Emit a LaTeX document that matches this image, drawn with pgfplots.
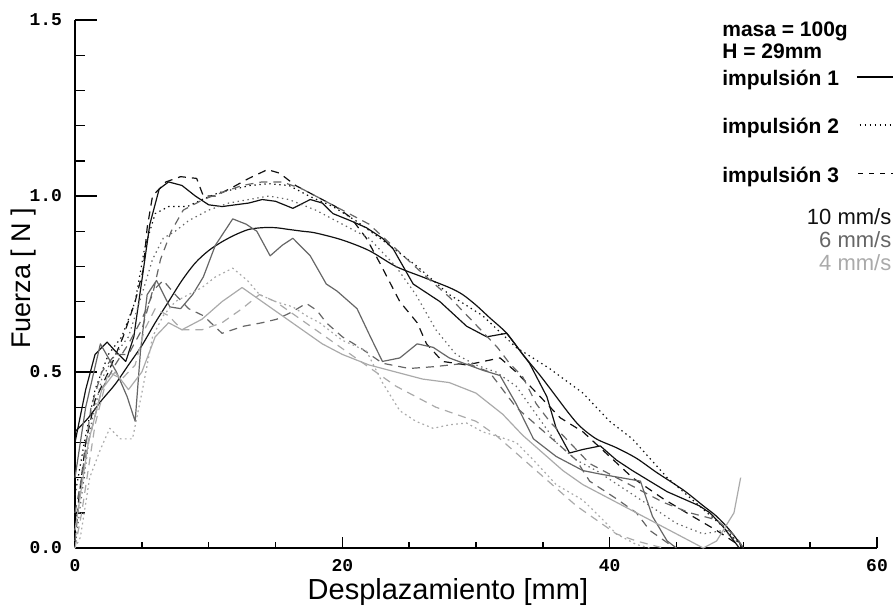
\documentclass[border=0pt]{standalone}
\usepackage{fontspec}
\setmainfont{Liberation Sans}
\newfontfamily\monofont{Liberation Mono}
\usepackage{pgfplots}
\pgfplotsset{compat=1.18}
\usetikzlibrary{calc}
\definecolor{cA}{HTML}{111111}
\definecolor{cB}{HTML}{666666}
\definecolor{cC}{HTML}{AAAAAA}
\begin{document}
\begin{tikzpicture}
\begin{axis}[name=ax,
  scale only axis, width=401pt, height=264pt,
  xmin=0, xmax=60, ymin=0, ymax=1.5,
  axis x line*=bottom, axis y line*=left,
  tick align=inside,
  xtick={0,20,40,60}, minor x tick num=3,
  ytick={0,0.5,1,1.5}, minor y tick num=4,
  major tick length=5.5pt, minor tick length=3pt,
  y tick style={/pgfplots/major tick length=11pt, /pgfplots/minor tick length=5pt},
  axis line style={line width=0.8pt},
  every tick/.style={line width=0.7pt, black},
  /pgf/number format/assume math mode=true,
  ticklabel style={font=\monofont\bfseries\fontsize{9}{10}\selectfont},
  yticklabel style={xshift=-3pt, /pgf/number format/fixed, /pgf/number format/fixed zerofill, /pgf/number format/precision=1},
  xticklabel style={yshift=-2pt},
  xlabel={Desplazamiento [mm]},
  xlabel style={font=\fontsize{14.5}{16}\selectfont, at={(rel axis cs:0.465,0)}, anchor=center, yshift=-22pt},
  ylabel={Fuerza [ N ]},
  ylabel style={font=\fontsize{13.5}{15}\selectfont, at={(rel axis cs:0,0.511)}, anchor=center, yshift=25.5pt},
  clip=false,
  every axis plot/.append style={line width=0.6pt, line join=round},
]
% 10 mm/s solid (wiggly)
\addplot[cA] coordinates {(0,0.30)(0.8,0.45)(1.5,0.55)(2.4,0.585)(3,0.56)(3.8,0.53)(4.4,0.6)(5,0.76)(5.6,0.92)(6.3,1.02)(7,1.04)(8,1.03)(9,1.0)(10,0.975)(11,0.97)(12,0.975)(13,0.98)(14,0.99)(15,0.985)(16.3,0.965)(17.6,0.99)(18.5,0.98)(19.3,0.95)(20.6,0.93)(21.8,0.91)(23,0.88)(23.8,0.85)(25.3,0.75)(27.3,0.70)(29.3,0.63)(30.8,0.60)(32.3,0.61)(34,0.525)(35.3,0.43)(36,0.34)(37,0.27)(38,0.28)(39.3,0.29)(40.5,0.25)(41.7,0.22)(43,0.19)(44.3,0.16)(45.5,0.14)(46.7,0.12)(47.5,0.1)(48.5,0.06)(49.7,0.0)};
% 10 mm/s solid (smooth)
\addplot[cA, smooth] coordinates {(0,0.33)(1,0.37)(2,0.42)(3,0.465)(4,0.52)(5,0.575)(6,0.64)(7,0.70)(8,0.76)(9,0.81)(10,0.845)(11,0.87)(12,0.89)(13,0.905)(14,0.91)(15,0.91)(16,0.905)(17,0.9)(18,0.895)(20,0.875)(22,0.845)(24,0.80)(26,0.77)(28,0.74)(29,0.72)(30,0.69)(31,0.655)(32.3,0.61)(33.5,0.55)(34.8,0.49)(36,0.43)(37,0.38)(37.8,0.345)(39,0.31)(40.5,0.285)(42,0.255)(43.5,0.215)(45.5,0.165)(47,0.12)(48,0.09)(49,0.05)(50,0.0)};
% 10 mm/s dotted
\addplot[cA, dash pattern=on 0.7pt off 1.8pt] coordinates {(0,0.15)(0.7,0.3)(1.5,0.45)(2.5,0.55)(3.5,0.6)(4.5,0.7)(5.2,0.85)(6,0.95)(7,0.97)(8.4,0.97)(9.5,0.99)(10.8,1.01)(12,1.02)(13.1,1.03)(14.5,1.035)(16,1.03)(17.5,1.0)(19.3,0.97)(21,0.93)(23,0.875)(25.6,0.80)(28,0.72)(30.5,0.66)(33,0.57)(35.5,0.51)(38,0.44)(40,0.36)(41.7,0.31)(44.3,0.2)(46.7,0.12)(48.5,0.06)(49.5,0.02)(50,0)};
% 10 mm/s dashed
\addplot[cA, dash pattern=on 4pt off 3pt] coordinates {(0,0.05)(0.8,0.3)(1.5,0.42)(2.5,0.5)(3.6,0.6)(4.5,0.7)(5.1,0.79)(5.4,0.91)(5.8,1.0)(6.8,1.04)(7.9,1.055)(9.1,1.05)(9.6,1.0)(10.5,1.0)(11.8,1.025)(13,1.05)(14.4,1.075)(15.3,1.065)(16.5,1.03)(18,1.0)(19.5,0.97)(20.6,0.94)(21.8,0.88)(22.8,0.81)(24.3,0.70)(25.6,0.64)(26.3,0.58)(27.5,0.53)(29.3,0.52)(31.8,0.54)(33,0.50)(34.3,0.45)(36.3,0.37)(38,0.33)(40,0.26)(41.7,0.2)(44,0.14)(46.2,0.09)(48,0.05)(49.2,0.02)(50,0)};
% 6 mm/s dashed
\addplot[cB, dash pattern=on 4pt off 3pt] coordinates {(0,0.1)(1,0.3)(2,0.45)(3,0.52)(4,0.58)(5,0.65)(5.8,0.72)(6.4,0.82)(7.2,0.9)(8.1,0.96)(9.6,0.99)(11,1.01)(12.5,1.03)(14,1.04)(15.5,1.04)(17,1.02)(18.5,0.99)(20,0.96)(22,0.92)(24,0.85)(26,0.78)(28,0.713)(29.6,0.65)(31.6,0.57)(32.5,0.525)(33.5,0.486)(34.5,0.41)(35.5,0.36)(37,0.3)(38.5,0.24)(40.5,0.2)(42,0.17)(44,0.13)(46,0.1)(48,0.08)(49.5,0.03)(50,0)};
% 6 mm/s solid
\addplot[cB] coordinates {(0,0.2)(0.8,0.4)(1.9,0.58)(3.1,0.5)(3.9,0.43)(4.5,0.36)(4.9,0.56)(5.4,0.72)(6.1,0.76)(7.1,0.685)(7.9,0.68)(8.8,0.72)(9.6,0.77)(10.5,0.86)(11.8,0.935)(12.8,0.92)(13.6,0.90)(14.6,0.83)(15.5,0.86)(16.3,0.88)(17.6,0.83)(18.8,0.75)(19.6,0.73)(21.1,0.68)(22.1,0.60)(23,0.53)(24.3,0.54)(25.6,0.58)(26.8,0.57)(28,0.54)(30.5,0.505)(31.8,0.49)(33,0.41)(34.3,0.31)(36,0.26)(38,0.22)(39.3,0.21)(42.3,0.19)(43.2,0.09)(44.3,0.02)(45,0.0)};
% 6 mm/s dotted
\addplot[cB, dash pattern=on 0.7pt off 1.8pt] coordinates {(0,0.0)(0.5,0.15)(1.2,0.35)(2,0.48)(3,0.55)(4,0.6)(5,0.72)(5.8,0.82)(6.6,0.88)(7.5,0.9)(8.5,0.93)(10,0.96)(11.5,0.98)(13,0.99)(14.5,1.0)(16,0.99)(18,0.96)(20,0.92)(22,0.88)(24,0.8)(25.5,0.72)(27,0.62)(28.5,0.55)(30,0.52)(31.5,0.5)(33,0.46)(34.5,0.38)(36,0.3)(37.5,0.25)(39,0.22)(41,0.17)(43,0.12)(45,0.07)(47,0.04)(48.5,0.05)(49.5,0.02)(50,0)};
% 6 mm/s dashed lower
\addplot[cB, dash pattern=on 4pt off 3pt] coordinates {(0,0.02)(0.5,0.2)(1.2,0.4)(2,0.5)(3,0.55)(4,0.55)(5,0.62)(5.8,0.73)(6.6,0.76)(7.5,0.72)(8.5,0.68)(9.6,0.66)(11,0.61)(12.6,0.63)(14,0.64)(15.1,0.65)(16.2,0.67)(17.3,0.695)(18.1,0.675)(18.8,0.64)(20,0.60)(21.3,0.57)(23,0.525)(25,0.51)(26.8,0.515)(29.3,0.525)(31,0.5)(32,0.45)(33,0.4)(34.5,0.35)(36,0.3)(37.5,0.25)(38.5,0.19)(40.5,0.14)(42,0.1)(43,0.05)(44.5,0.01)};
% 4 mm/s dotted
\addplot[cC, dash pattern=on 0.9pt off 1.6pt] coordinates {(0,0.0)(0.4,0.03)(1.1,0.2)(1.9,0.28)(2.6,0.34)(3.4,0.31)(4.3,0.31)(5,0.44)(5.8,0.6)(6.6,0.66)(7.5,0.7)(8.5,0.72)(9.5,0.74)(10.5,0.77)(11.8,0.795)(12.9,0.76)(13.8,0.72)(15,0.70)(16.3,0.685)(17.3,0.66)(18.3,0.64)(20,0.59)(21.8,0.56)(23,0.47)(24.3,0.39)(25.5,0.36)(26.8,0.34)(28,0.35)(29.3,0.355)(30.5,0.33)(31.8,0.315)(33,0.3)(34.3,0.25)(36,0.18)(38,0.136)(39.5,0.08)(40.5,0.04)(42,0.01)(43,0.0)};
% 4 mm/s dashed
\addplot[cC, dash pattern=on 4pt off 3pt] coordinates {(0,0.0)(0.5,0.1)(1.5,0.35)(2.5,0.5)(3.5,0.48)(4.5,0.52)(5.2,0.62)(6,0.68)(7,0.66)(8,0.62)(9.5,0.62)(11,0.64)(12.5,0.68)(13.8,0.72)(15,0.70)(16.5,0.66)(18,0.62)(19.5,0.58)(21,0.54)(22.5,0.5)(24,0.46)(25.5,0.43)(27,0.4)(28.5,0.38)(30,0.36)(31.5,0.32)(33,0.27)(34.5,0.22)(36,0.17)(37.5,0.12)(39,0.08)(40.5,0.04)(42,0.02)(44,0.0)};
% 4 mm/s solid
\addplot[cC] coordinates {(0,0.05)(1,0.3)(2,0.45)(3,0.5)(4,0.45)(5,0.5)(6,0.6)(7,0.64)(8,0.62)(9.5,0.65)(11,0.7)(12.5,0.74)(14,0.7)(15.5,0.66)(17,0.62)(18.5,0.58)(20,0.55)(22,0.52)(24,0.5)(26,0.48)(28,0.47)(30,0.44)(32,0.38)(33.5,0.32)(35,0.27)(36.5,0.22)(38,0.18)(40,0.14)(42,0.1)(44,0.06)(45.5,0.03)(47,0.0)(48,0.02)(49.3,0.1)(49.8,0.2)};
% legend samples
\addplot[black, forget plot] coordinates {(58.5,1.338)(61.2,1.338)};
\addplot[black, forget plot, dash pattern=on 0.7pt off 1.8pt] coordinates {(58.7,1.202)(61.2,1.202)};
\addplot[black, forget plot, dash pattern=on 2.5pt off 3pt] coordinates {(58.6,1.065)(61.2,1.065)};
% legend text
\node[anchor=west, font=\bfseries\fontsize{10.5}{11}\selectfont, inner sep=0pt] at (axis cs:48.4,1.468) {masa = 100g};
\node[anchor=west, font=\bfseries\fontsize{10.5}{11}\selectfont, inner sep=0pt] at (axis cs:48.4,1.41) {H = 29mm};
\node[anchor=west, font=\bfseries\fontsize{10.5}{11}\selectfont, inner sep=0pt] at (axis cs:48.4,1.33) {impulsión 1};
\node[anchor=west, font=\bfseries\fontsize{10.5}{11}\selectfont, inner sep=0pt] at (axis cs:48.4,1.193) {impulsión 2};
\node[anchor=west, font=\bfseries\fontsize{10.5}{11}\selectfont, inner sep=0pt] at (axis cs:48.4,1.054) {impulsión 3};
\node[anchor=east, font=\fontsize{11}{12}\selectfont, inner sep=0pt, text=cA] at (axis cs:61.1,0.94) {10 mm/s};
\node[anchor=east, font=\fontsize{11}{12}\selectfont, inner sep=0pt, text=cB] at (axis cs:61.1,0.876) {6 mm/s};
\node[anchor=east, font=\fontsize{11}{12}\selectfont, inner sep=0pt, text=cC] at (axis cs:61.1,0.81) {4 mm/s};
\end{axis}
\pgfresetboundingbox
\path ($(ax.south west)+(-37.5pt,-29.5pt)$) rectangle ($(ax.north east)+(9.5pt,10pt)$);
\end{tikzpicture}
\end{document}
